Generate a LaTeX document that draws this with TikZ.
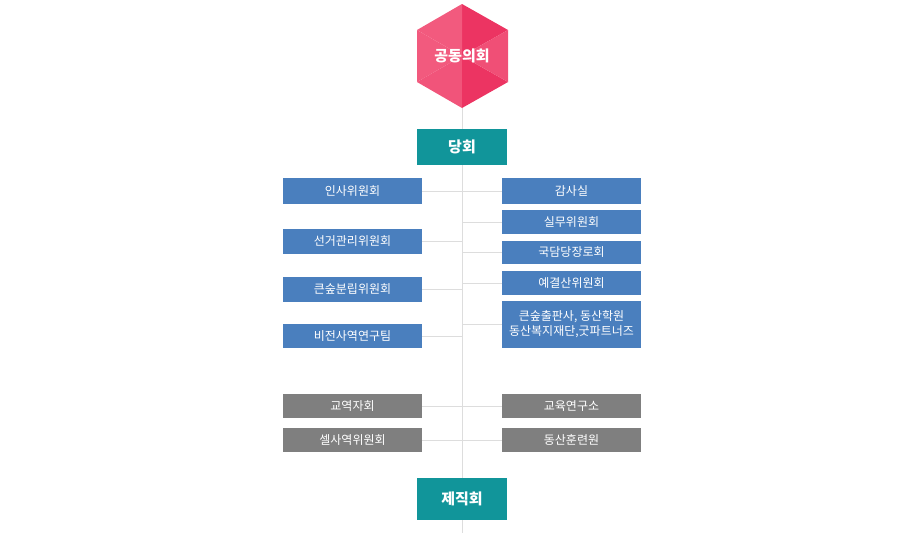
\documentclass[tikz,border=0pt]{standalone}
\usepackage{fontspec}
\setmainfont{Noto Sans CJK KR}
\definecolor{bl}{HTML}{4A7FBE}
\definecolor{gr}{HTML}{7F7F7F}
\definecolor{tl}{HTML}{11959A}
\definecolor{pk1}{HTML}{EC3462}
\definecolor{pk2}{HTML}{F25A7E}
\definecolor{ln}{HTML}{DDDDDD}
\begin{document}
\begin{tikzpicture}[x=1pt,y=-1pt,
 bx/.style={fill=#1,text=white,inner sep=0pt,minimum width=139pt,font=\fontsize{12}{13}\selectfont},
 big/.style={fill=tl,text=white,inner sep=0pt,minimum width=90pt,font=\bfseries\fontsize{15}{16}\selectfont},
 con/.style={draw=ln,line width=0.8pt}]
\useasboundingbox (0,0) rectangle (924,533);
\coordinate (c) at (462,56);
\coordinate (sb) at (462,533);
\draw[con] (462,108) -- (sb);
% hexagon faces
\fill[pk1] (c) -- (462,4) -- (508,30) -- cycle;
\fill[pk2] (c) -- (462,4) -- (417,30) -- cycle;
\fill[pk2] (c) -- (417,30) -- (417,82) -- cycle;
\fill[pk2!85!pk1] (c) -- (417,82) -- (462,108) -- cycle;
\fill[pk1] (c) -- (462,108) -- (508,82) -- cycle;
\fill[pk2!70!pk1] (c) -- (508,82) -- (508,30) -- cycle;
\node[text=white,font=\bfseries\fontsize{15}{16}\selectfont] (hex) at (c) {공동의회};
\node[big,minimum height=36pt] (dh) at (462,147) {당회};
\node[big,minimum height=42pt] (jj) at (462,499) {제직회};
% left
\foreach \n/\t/\ya/\yb/\c in {l1/인사위원회/178/204/bl,l2/선거관리위원회/229/254/bl,l3/큰숲분립위원회/277/302/bl,l4/비전사역연구팀/324/348/bl,l5/교역자회/394/418/gr,l6/셀사역위원회/428/452/gr}{
 \node[bx=\c,minimum height={\yb-\ya}] (\n) at (352.5,{(\ya+\yb)/2}) {\t};
 \coordinate (\n s) at (462,{(\ya+\yb)/2});
 \draw[con] (\n) -- (\n s);
}
\foreach \n/\t/\ya/\yb/\c in {r1/감사실/178/204/bl,r2/실무위원회/210/234/bl,r3/국담당장로회/241/264/bl,r4/예결산위원회/271/295/bl,r6/교육연구소/394/418/gr,r7/동산훈련원/428/452/gr}{
 \node[bx=\c,minimum height={\yb-\ya}] (\n) at (571.5,{(\ya+\yb)/2}) {\t};
 \coordinate (\n s) at (462,{(\ya+\yb)/2});
 \draw[con] (\n) -- (\n s);
}
\node[bx=bl,minimum height=47pt,align=center,font=\fontsize{12}{16}\selectfont] (r5) at (571.5,324.5) {큰숲출판사, 동산학원\\[-1pt]동산복지재단,굿파트너즈};
\coordinate (r5s) at (462,324.5);
\draw[con] (r5) -- (r5s);
\end{tikzpicture}
\end{document}
